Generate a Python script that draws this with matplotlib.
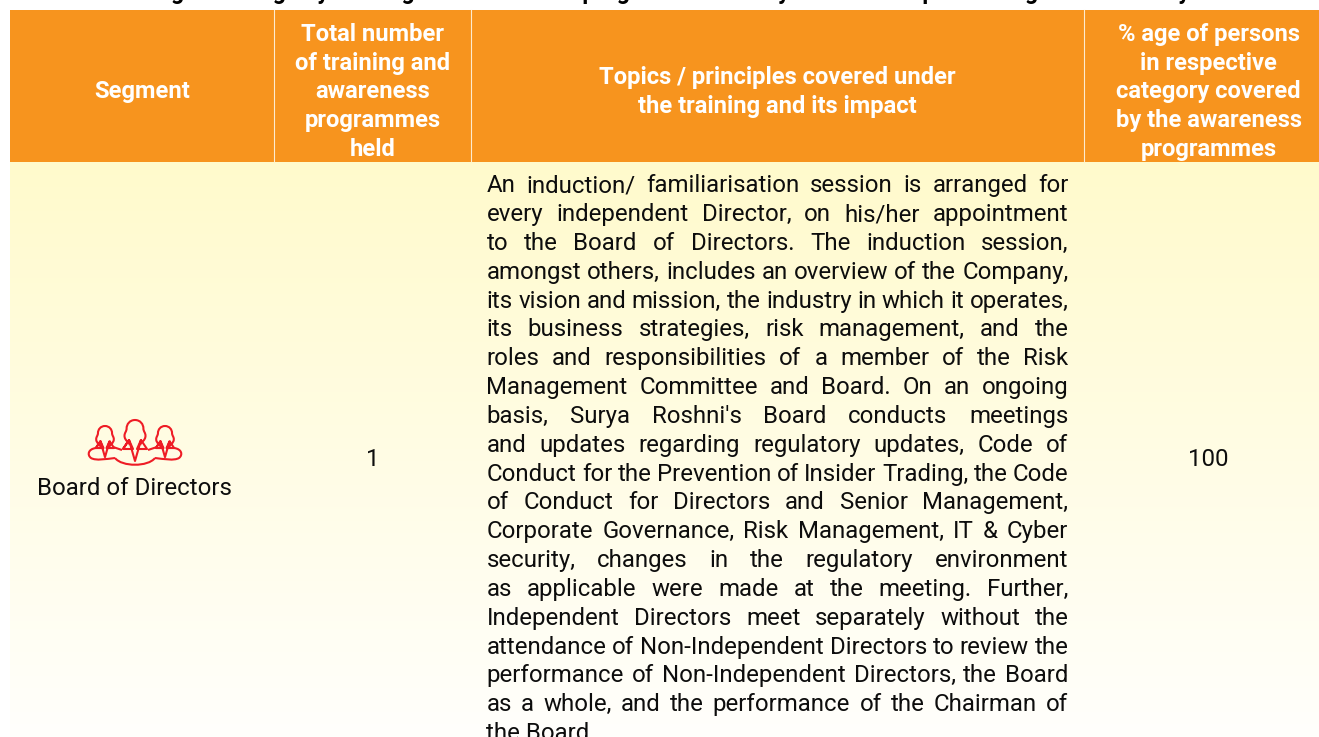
import numpy as np
import matplotlib
matplotlib.use('Agg')
import matplotlib.pyplot as plt
from matplotlib.path import Path
from matplotlib.patches import PathPatch, Rectangle

W, H = 1319, 737

columns = ['Segment', 'Total number\nof training and\nawareness\nprogrammes\nheld',
           'Topics / principles covered under\nthe training and its impact',
           '% age of persons\nin respective\ncategory covered\nby the awareness\nprogrammes']
segment = 'Board of Directors'
programmes_held = '1'
pct_covered = '100'
title = 'Percentage coverage by training and awareness programmes on any of the Principles during the financial year'
topics = [
    'An induction/ familiarisation session is arranged for',
    'every independent Director, on his/her appointment',
    'to the Board of Directors. The induction session,',
    'amongst others, includes an overview of the Company,',
    'its vision and mission, the industry in which it operates,',
    'its business strategies, risk management, and the',
    'roles and responsibilities of a member of the Risk',
    'Management Committee and Board. On an ongoing',
    "basis, Surya Roshni's Board conducts meetings",
    'and updates regarding regulatory updates, Code of',
    'Conduct for the Prevention of Insider Trading, the Code',
    'of Conduct for Directors and Senior Management,',
    'Corporate Governance, Risk Management, IT & Cyber',
    'security, changes in the regulatory environment',
    'as applicable were made at the meeting. Further,',
    'Independent Directors meet separately without the',
    'attendance of Non-Independent Directors to review the',
    'performance of Non-Independent Directors, the Board',
    'as a whole, and the performance of the Chairman of',
    'the Board',
]

ORANGE = '#F7941E'
RED = '#EE1C25'
TEXT = '#0D0D0D'
BODY_SIZE = 17.3
plt.rcParams['font.family'] = ['Roboto', 'DejaVu Sans']

fig = plt.figure(figsize=(W / 100, H / 100), dpi=100)
ax = fig.add_axes([0, 0, 1, 1])
ax.set_xlim(0, W)
ax.set_ylim(H, 0)
ax.axis('off')

# title is cut off by the top edge, only descenders show
ax.text(650, -1, title, ha='center', va='baseline', fontsize=16.7, fontweight='bold', color='black')

# header band and dividers
ax.add_patch(Rectangle((10, 10), W - 10, 151.5, color=ORANGE, lw=0))
for x in [274.5, 471.5, 1084.5]:
    ax.plot([x - 0.7, x - 0.7], [10, 161], color='#FDEBD0', lw=0.8)

# body gradient
grad = np.linspace(0, 1, 256)[:, None, None]
top = np.array([255, 250, 204]) / 255
bottom = np.array([255, 255, 252]) / 255
ax.imshow(top + (bottom - top) * grad, extent=(10, W, H, 162), aspect='auto', zorder=0)
ax.set_xlim(0, W)
ax.set_ylim(H, 0)

# header text, one line at a time so spacing can follow the picture
header_centres = [142, 372.5, 777.5, 1208.5]
for label, cx in zip(columns, header_centres):
    lines = label.split('\n')
    y0 = 89.4 - (len(lines) - 1) * 28.8 / 2
    for i, line in enumerate(lines):
        ax.text(cx, y0 + i * 28.8, line, ha='center', va='center_baseline', color='white',
                fontsize=17.1, fontweight='bold')

# justified topic text
renderer = fig.canvas.get_renderer()
left, right = 486.5, 1068.5
line_y = 183.3
step = 28.83
for n, line in enumerate(topics):
    y = line_y + n * step
    words = line.split(' ')
    if n == len(topics) - 1:
        ax.text(left, y, line, va='center_baseline', fontsize=BODY_SIZE, color=TEXT)
        continue
    arts = [ax.text(left, y, w, va='center_baseline', fontsize=BODY_SIZE, color=TEXT) for w in words]
    widths = [a.get_window_extent(renderer).width for a in arts]
    gap = (right - left - sum(widths)) / (len(words) - 1)
    x = left
    for a, wd in zip(arts, widths):
        a.set_x(x)
        x += wd + gap

ax.text(134.5, 486, segment, ha='center', va='center_baseline', fontsize=BODY_SIZE, color=TEXT)
ax.text(372.5, 457, programmes_held, ha='center', va='center_baseline', fontsize=BODY_SIZE, color=TEXT)
ax.text(1208.5, 457, pct_covered, ha='center', va='center_baseline', fontsize=BODY_SIZE, color=TEXT)


def stroke(points, codes=None, lw=1.5):
    ax.add_patch(PathPatch(Path(points, codes), fc='none', ec=RED, lw=lw, joinstyle='round'))


def person(cx, top_y, s, collar_s):
    # head outline, then the collar triangles and V below it
    head = [(-5, 24), (-5, 21), (-10, 20), (-10, 15), (-10, 12), (-8, 11), (-8, 8), (-8, 4), (-5, 0), (0, 0),
            (5, 0), (8, 4), (8, 8), (8, 11), (10, 12), (10, 15), (10, 20), (5, 21), (5, 24)]
    head = [(cx + a * s, top_y + b * s) for a, b in head]
    stroke(head, [Path.MOVETO] + [Path.CURVE4] * 18)
    collar = [(-12, 29), (-6, 20), (-2, 29), (-12, 29), (-6, 20), (0, 41), (6, 20), (2, 29), (12, 29), (6, 20)]
    stroke([(cx + a * collar_s, top_y + b * collar_s) for a, b in collar])


person(105, 426, 0.88, 0.76)
person(135, 420, 1.05, 1.0)
person(165, 426, 0.88, 0.76)
for mirror in [False, True]:
    fx = (lambda v: 270 - v) if mirror else (lambda v: v)
    side = [(fx(96), 448), (fx(88), 449), (fx(87), 455), (fx(91), 458), (fx(96), 461), (fx(106), 459), (fx(115), 458)]
    stroke(side, [Path.MOVETO] + [Path.CURVE4] * 6)
    stroke([(fx(113), 447), (fx(122), 450)])
stroke([(115, 458), (122, 467), (148, 467), (155, 458)], [Path.MOVETO, Path.CURVE4, Path.CURVE4, Path.CURVE4])

fig.savefig('out.png', dpi=100)
